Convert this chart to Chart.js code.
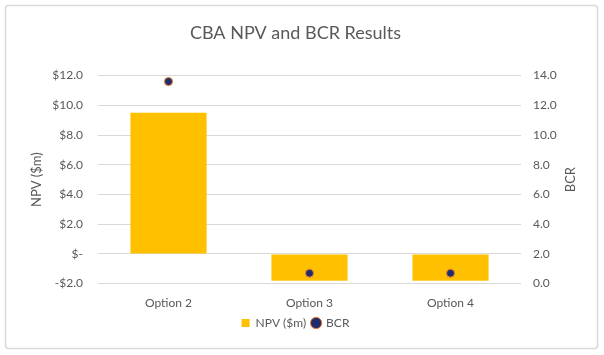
<!DOCTYPE html>
<html>
<head>
<meta charset="utf-8">
<script src="https://cdn.jsdelivr.net/npm/chart.js@4/dist/chart.umd.min.js"></script>
<style>
html,body{margin:0;padding:0;background:#fff;}
#wrap{width:604px;height:355px;position:relative;}
</style>
</head>
<body>
<div id="wrap"><canvas id="c" width="604" height="355"></canvas></div>
<script>
const categories = ['Option 2', 'Option 3', 'Option 4'];
const npvValues = [9.5, -1.8, -1.8];
const bcrValues = [13.6, 0.7, 0.7];
const npvTicks = [-2, 0, 2, 4, 6, 8, 10, 12];
const bcrTicks = [0, 2, 4, 6, 8, 10, 12, 14];

const FONT = 'Lato, "Open Sans", sans-serif';
const TXT = '#595959';

const framePlugin = {
  id: 'frame',
  beforeDraw(chart) {
    const ctx = chart.ctx;
    ctx.save();
    ctx.fillStyle = '#fff';
    ctx.fillRect(0, 0, chart.width, chart.height);
    ctx.strokeStyle = '#d9d9d9';
    ctx.lineWidth = 1.5;
    ctx.beginPath();
    ctx.roundRect(5.5, 5.5, 592, 343, 3);
    ctx.stroke();
    ctx.restore();
  },
  afterDraw(chart) {
    const ctx = chart.ctx;
    const a = chart.chartArea;
    ctx.save();
    ctx.translate(571, (a.top + a.bottom) / 2);
    ctx.rotate(-Math.PI / 2);
    ctx.fillStyle = TXT;
    ctx.font = '13px ' + FONT;
    ctx.textAlign = 'center';
    ctx.textBaseline = 'middle';
    ctx.fillText('BCR', 0, 0);
    ctx.restore();
  }
};

new Chart(document.getElementById('c'), {
  data: {
    labels: categories,
    datasets: [
      {
        type: 'bar',
        label: 'NPV ($m)',
        data: npvValues,
        backgroundColor: '#FFC000',
        borderWidth: 0,
        yAxisID: 'y',
        barPercentage: 0.54,
        categoryPercentage: 1.0,
        pointStyle: 'rect',
        order: 2
      },
      {
        type: 'line',
        label: 'BCR',
        data: bcrValues,
        showLine: false,
        yAxisID: 'y1',
        pointRadius: 4,
        pointHoverRadius: 4,
        pointBackgroundColor: '#1F2D6B',
        pointBorderColor: '#ED7D31',
        pointBorderWidth: 1,
        backgroundColor: '#1F2D6B',
        borderColor: '#ED7D31',
        borderWidth: 1,
        pointStyle: 'circle',
        order: 1
      }
    ]
  },
  options: {
    responsive: false,
    animation: false,
    devicePixelRatio: 1,
    layout: { padding: { left: 25, right: 38, top: 0, bottom: 16 } },
    plugins: {
      title: {
        display: true,
        text: 'CBA NPV and BCR Results',
        color: TXT,
        font: { family: FONT, size: 18, weight: 'normal' },
        padding: { top: 22, bottom: 32 }
      },
      legend: {
        position: 'bottom',
        labels: {
          usePointStyle: true,
          boxWidth: 8,
          boxHeight: 8,
          color: TXT,
          font: { family: FONT, size: 12 },
          padding: 6,
          sort: (a, b) => a.datasetIndex - b.datasetIndex
        }
      },
      tooltip: { enabled: false }
    },
    scales: {
      x: {
        offset: true,
        afterFit(s) { s.height = s.height - 11; },
        grid: { display: false, drawTicks: false },
        border: { display: false },
        ticks: { color: TXT, font: { family: FONT, size: 12 }, padding: 12 }
      },
      y: {
        position: 'left',
        min: -2,
        max: 12,
        afterBuildTicks(s) { s.ticks = npvTicks.map(v => ({ value: v })); },
        afterFit(s) { s.width = 73; },
        grid: { color: '#d9d9d9', drawTicks: false, lineWidth: 1 },
        border: { display: false },
        ticks: {
          color: TXT,
          font: { family: FONT, size: 12 },
          padding: 15,
          callback(v) {
            if (v === 0) return '$-';
            return (v < 0 ? '-$' : '$') + Math.abs(v).toFixed(1);
          }
        },
        title: {
          display: true,
          text: 'NPV ($m)',
          color: TXT,
          font: { family: FONT, size: 13 },
          padding: { top: 4, bottom: 4 }
        }
      },
      y1: {
        position: 'right',
        min: 0,
        max: 14,
        afterBuildTicks(s) { s.ticks = bcrTicks.map(v => ({ value: v })); },
        afterFit(s) { s.width = 45; },
        grid: { display: false, drawTicks: false },
        border: { display: false },
        ticks: {
          color: TXT,
          font: { family: FONT, size: 12 },
          padding: 12,
          callback(v) { return v.toFixed(1); }
        }
      }
    }
  },
  plugins: [framePlugin]
});
</script>
</body>
</html>
